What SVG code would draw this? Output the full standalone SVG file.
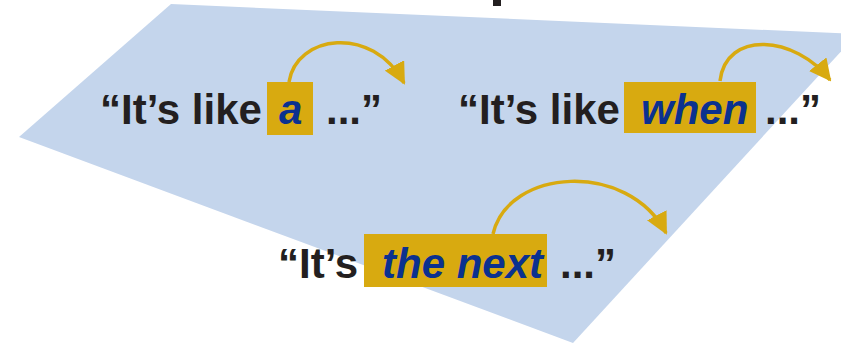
<svg xmlns="http://www.w3.org/2000/svg" width="841" height="343" viewBox="0 0 841 343">
  <defs>
    <style>
      .plane { fill: #C4D5EC; }
      .hl { fill: #D8AA10; }
      .txt { font-family: "Liberation Sans", Arial, sans-serif; font-weight: bold; font-size: 42px; fill: #231F20; }
      .key { font-family: "Liberation Sans", Arial, sans-serif; font-weight: bold; font-style: italic; font-size: 42px; fill: #0B318F; }
      .arc { fill: none; stroke: #D8AA10; stroke-width: 3.5; marker-end: url(#head); }
    </style>
    <marker id="head" viewBox="0 0 22 22" refX="20" refY="11" markerWidth="22" markerHeight="22" markerUnits="userSpaceOnUse" orient="auto">
      <path d="M0,0 L22,11 L0,22 z" fill="#D8AA10"/>
    </marker>
  </defs>

  <g id="plane">
    <polygon class="plane" points="171,4 857,34 573,343 19,137"/>
  </g>

  <g id="title-fragment">
    <rect x="493" y="0" width="8" height="6" fill="#231F20"/>
  </g>

  <g id="phrase-a">
    <rect class="hl" x="267" y="82" width="46" height="53"/>
    <text class="txt" x="100" y="124">“It’s like</text>
    <text class="key" x="279" y="124">a</text>
    <text class="txt" x="326" y="124">...”</text>
  </g>

  <g id="phrase-when">
    <rect class="hl" x="624" y="82" width="132" height="51"/>
    <text class="txt" x="458" y="124">“It’s like</text>
    <text class="key" x="641" y="124">when</text>
    <text class="txt" x="765" y="124">...”</text>
  </g>

  <g id="phrase-next">
    <rect class="hl" x="364" y="234" width="183" height="53"/>
    <text class="txt" x="278" y="278">“It’s</text>
    <text class="key" x="382" y="278">the next</text>
    <text class="txt" x="560" y="278">...”</text>
  </g>

  <g id="connectors">
    <path class="arc" d="M289,82 C296,35 372,24 404,83"/>
    <path class="arc" d="M720,81 C726,30 795,35 830,80"/>
    <path class="arc" d="M493,234 C508,168 628,160 666,233"/>
  </g>
</svg>
